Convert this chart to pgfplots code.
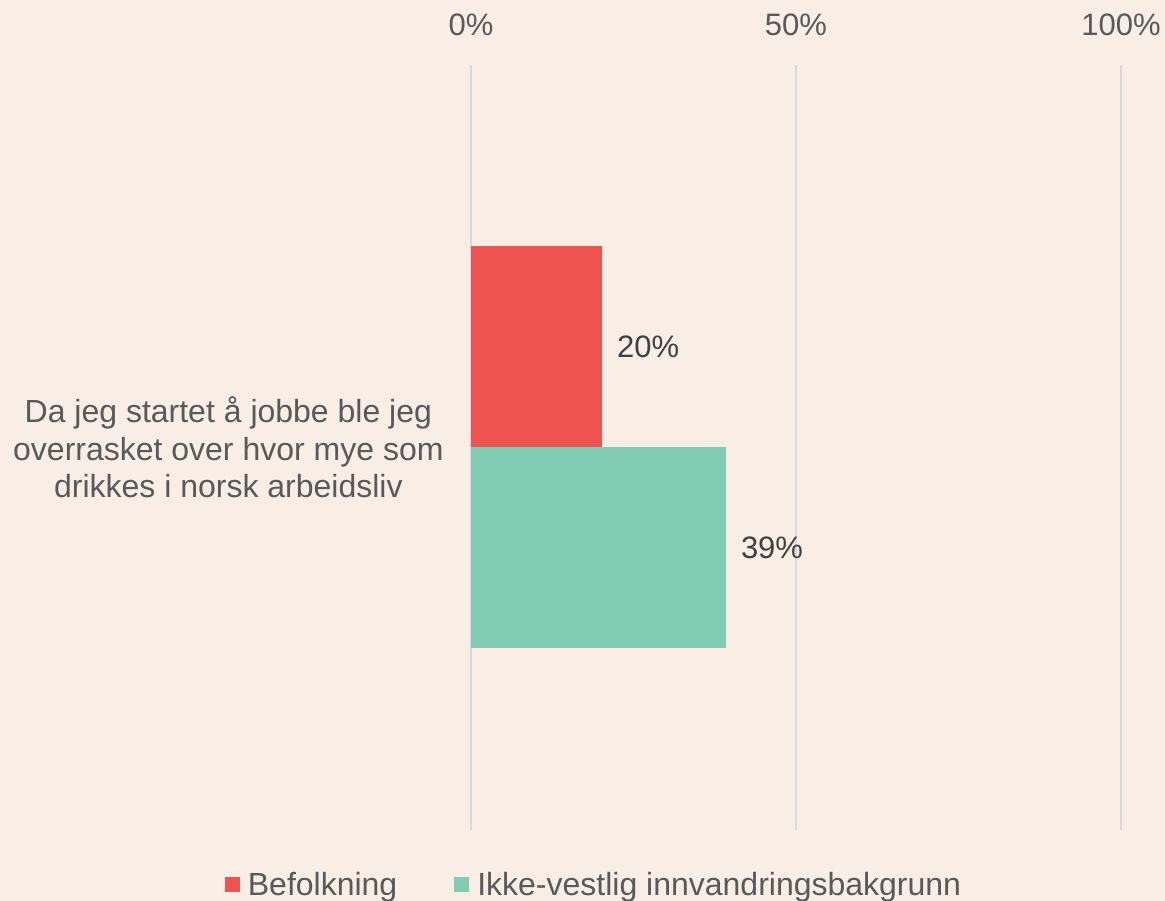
\documentclass[border=0pt]{standalone}
\usepackage{fontspec}
\setmainfont{Liberation Sans}
\usepackage{pgfplots}
\pgfplotsset{compat=1.18}
\definecolor{bg}{HTML}{F9EEE6}
\definecolor{redbar}{HTML}{EF5350}
\definecolor{greenbar}{HTML}{82CCB4}
\definecolor{gridgray}{HTML}{D9D9D9}
\definecolor{txtgray}{HTML}{595959}
\definecolor{lblgray}{HTML}{404040}
\begin{document}
\begin{tikzpicture}[x=1pt,y=1pt]
\fill[bg] (0,0) rectangle (1165,901);
\begin{axis}[
  at={(471pt,71pt)}, anchor=south west,
  scale only axis, width=650pt, height=765pt,
  xmin=0, xmax=100, ymin=-1, ymax=1,
  xbar, bar width=201pt,
  axis line style={draw=none},
  tick style={draw=none},
  xmajorgrids, grid style={color=gridgray, line width=1.5pt},
  xtick={0,50,100}, xticklabels={0\%,50\%,100\%},
  xticklabel pos=upper,
  xticklabel style={anchor=base, yshift=29pt, font=\fontsize{31}{36}\selectfont, text=txtgray},
  ytick={0}, yticklabels={Da jeg startet å jobbe ble jeg\\overrasket over hvor mye som\\drikkes i norsk arbeidsliv},
  yticklabel style={align=center, anchor=east, inner sep=0pt, xshift=-23pt, font=\fontsize{32}{37.5}\selectfont, text=txtgray},
  point meta=explicit symbolic,
  nodes near coords,
  nodes near coords style={anchor=west, inner sep=0pt, xshift=15pt, font=\fontsize{31}{36}\selectfont, text=lblgray},
  legend columns=2,
  legend style={at={(0.1877,-0.0719)}, anchor=center, draw=none, fill=none,
    nodes={inner sep=0pt, text=txtgray, font=\fontsize{32}{36}\selectfont},
    /tikz/every even column/.append style={column sep=57pt}},
  legend image code/.code={\fill[#1,draw=none] (0pt,-7.5pt) rectangle (15pt,7.5pt);},
]
\addplot[fill=redbar, draw=none, bar shift=100.5pt] coordinates {(20.15,0) [20\%]};
\addplot[fill=greenbar, draw=none, bar shift=-100.5pt] coordinates {(39.2,0) [39\%]};
\legend{\hspace{8pt}Befolkning, \hspace{8pt}Ikke-vestlig innvandringsbakgrunn}
\end{axis}
\end{tikzpicture}
\end{document}
